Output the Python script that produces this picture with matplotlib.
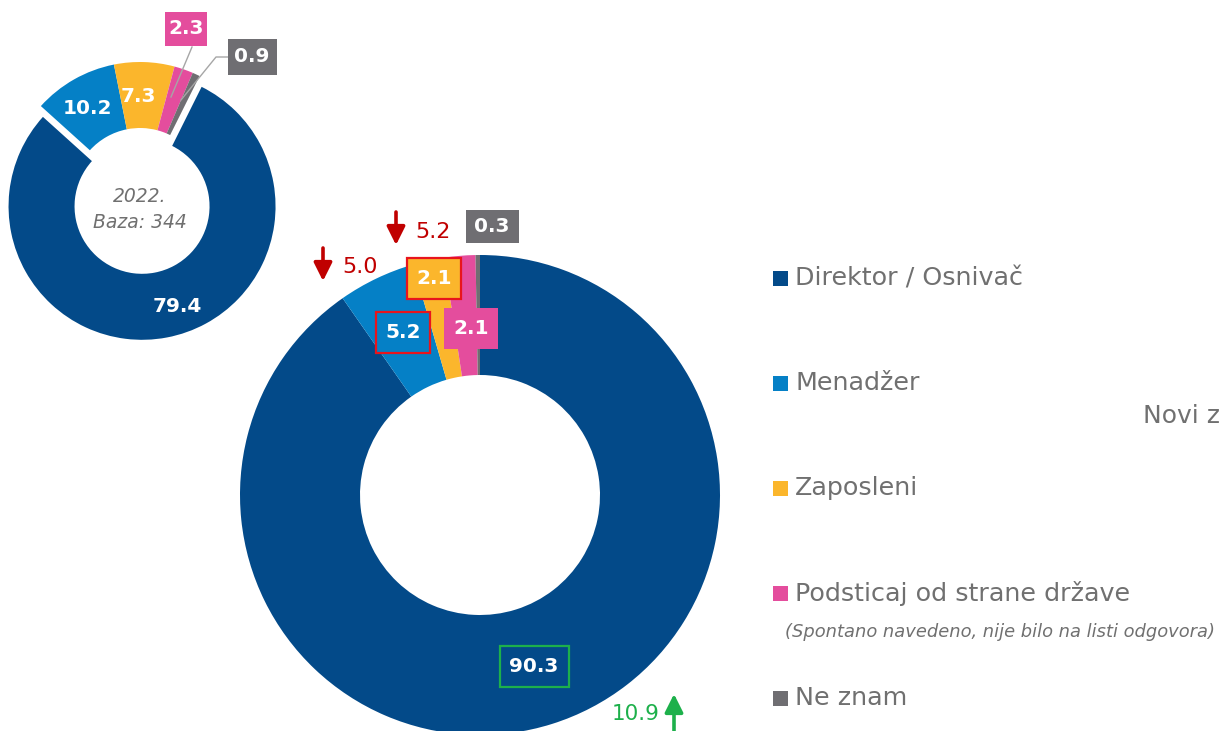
import matplotlib.pyplot as plt
from matplotlib.patches import Rectangle

# ----- Data -----
categories = ["Direktor / Osnivač", "Menadžer", "Zaposleni",
              "Podsticaj od strane države", "Ne znam"]
colors = ["#034a89", "#0580c6", "#fbb62c", "#e44d9d", "#6f6e72"]
values_2022 = [79.4, 10.2, 7.3, 2.3, 0.9]
values_now = [90.3, 5.2, 2.1, 2.1, 0.3]
changes = [10.9, -5.0, -5.2]          # Direktor, Menadžer, Zaposleni vs 2022
base_2022 = 344

W, H = 1219, 731
GRAY_TXT = "#707070"
RED = "#c00000"
GREEN = "#1db04b"
plt.rcParams['font.family'] = ['DejaVu Sans']

fig = plt.figure(figsize=(W / 100, H / 100), dpi=100)
ax = fig.add_axes([0, 0, 1, 1])


def Y(y):
    # image-style y (from top) to data y
    return H - y


# ----- Small donut (2022) -----
ax.pie(values_2022, colors=colors, startangle=63.5, counterclock=False,
       center=(140, Y(195.5)), radius=133.5, explode=[11, 0, 0, 0, 0],
       wedgeprops=dict(width=66, linewidth=0))

# ----- Big donut (current) -----
ax.pie(values_now, colors=colors, startangle=90, counterclock=False,
       center=(480, Y(495)), radius=240,
       wedgeprops=dict(width=120, linewidth=0))

ax.set_xlim(0, W)
ax.set_ylim(0, H)
ax.set_aspect('equal')
ax.axis('off')


def label(x, y, txt, w=None, h=None, fc=None, ec=None, size=14.5):
    if w is not None:
        ax.add_patch(Rectangle((x - w / 2, Y(y) - h / 2), w, h,
                               facecolor=fc if fc else 'none',
                               edgecolor=ec if ec else 'none',
                               lw=1.6 if ec else 0, zorder=3))
    ax.text(x, Y(y), txt, ha='center', va='center', color='white',
            fontsize=size, fontweight='bold', zorder=4)


fmt = lambda v: f"{v:.1f}"

# small donut labels
label(87, 108, fmt(values_2022[1]))
label(138, 96, fmt(values_2022[2]))
label(186, 29, fmt(values_2022[3]), 42, 34, fc=colors[3])
label(252, 57, fmt(values_2022[4]), 49, 36, fc=colors[4])
label(177, 306, fmt(values_2022[0]))
ax.plot([192, 171], [Y(47), Y(97)], color="#a6a6a6", lw=1, zorder=2)
ax.plot([228, 216, 181], [Y(57), Y(57), Y(100)], color="#a6a6a6", lw=1, zorder=2)
ax.text(139.5, Y(197), "2022.", ha='center', va='center', color=GRAY_TXT,
        fontsize=13.5, style='italic')
ax.text(139.5, Y(223), f"Baza: {base_2022}", ha='center', va='center',
        color=GRAY_TXT, fontsize=13.5, style='italic')

# big donut labels
label(534, 666, fmt(values_now[0]), 69, 41, ec=GREEN)
label(403, 332, fmt(values_now[1]), 54, 41, fc=colors[1], ec="#e8141c")
label(434, 278, fmt(values_now[2]), 54, 41, fc=colors[2], ec="#e8141c")
label(471, 328, fmt(values_now[3]), 54, 41, fc=colors[3])
label(492, 226, fmt(values_now[4]), 53, 33, fc=colors[4])

# change markers
arrow = dict(arrowstyle='-|>,head_length=1.1,head_width=0.55', lw=2.6,
             shrinkA=0, shrinkB=0)
ax.annotate('', xy=(323, Y(281)), xytext=(323, Y(248)),
            arrowprops=dict(arrow, color=RED))
ax.text(342, Y(267), f"{abs(changes[1]):.1f}", color=RED, fontsize=16,
        va='center', ha='left')
ax.annotate('', xy=(396, Y(245)), xytext=(396, Y(212)),
            arrowprops=dict(arrow, color=RED))
ax.text(415, Y(232), f"{abs(changes[2]):.1f}", color=RED, fontsize=16,
        va='center', ha='left')
ax.annotate('', xy=(674, Y(694)), xytext=(674, Y(731)),
            arrowprops=dict(arrow, color=GREEN))
ax.text(612, Y(714), f"{changes[0]:.1f}", color=GREEN, fontsize=15.5,
        va='center', ha='left')

# ----- Legend -----
leg_y = [278, 383, 488, 593, 698]
for cat, col, ly in zip(categories, colors, leg_y):
    ax.add_patch(Rectangle((773, Y(ly) - 7.5), 15, 15, facecolor=col, lw=0))
    ax.text(795, Y(ly), cat, color=GRAY_TXT, fontsize=18.3, va='center', ha='left')
ax.text(785, Y(632), "(Spontano navedeno, nije bilo na listi odgovora)",
        color=GRAY_TXT, fontsize=12.9, style='italic', va='center', ha='left')
ax.text(1143, Y(416), "Novi z", color=GRAY_TXT, fontsize=18,
        va='center', ha='left')

fig.savefig("out.png", dpi=100)
